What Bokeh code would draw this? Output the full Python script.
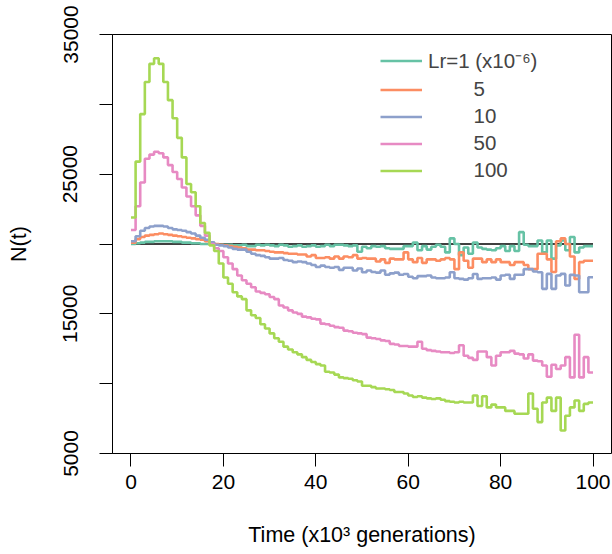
from bokeh.plotting import figure
from bokeh.models import Legend, LegendItem, FixedTicker, Range1d
from bokeh.embed import file_html
from bokeh.resources import INLINE

# ---- data ----
time_k = list(range(0, 101))  # x10^3 generations

lr1 = [20000, 20050, 20100, 20150, 20150, 20200, 20200, 20200, 20200, 20150,
       20150, 20100, 20100, 20050, 20050, 20000, 20000, 19950, 19950, 19950,
       19950, 19950, 19900, 19900, 19950, 19850, 19850, 19950, 19900, 19950,
       19900, 19850, 19950, 19900, 19800, 19850, 19900, 19800, 19850, 19900,
       19800, 19850, 19950, 19850, 19950, 19950, 19900, 19850, 19900, 19450,
       19800, 19700, 19850, 19800, 19850, 19700, 19650, 19650, 19650, 19850,
       19850, 20100, 19550, 19850, 19600, 19800, 19950, 19800, 19400, 20400,
       20000, 19200, 19750, 19300, 20100, 19750, 19650, 19600, 19550, 19700,
       19850, 19500, 19850, 19500, 20850, 19950, 19850, 19850, 20250, 19400,
       20250, 18950, 19900, 20250, 19550, 20500, 19400, 19750, 19850, 19850, 19850]

lr5 = [20100, 20350, 20500, 20600, 20650, 20700, 20750, 20700, 20650, 20600,
       20550, 20500, 20450, 20400, 20350, 20300, 20200, 20100, 20000, 19950,
       19900, 19850, 19800, 19750, 19700, 19600, 19600, 19550, 19550, 19500,
       19450, 19400, 19400, 19350, 19300, 19300, 19250, 19250, 19100, 19200,
       19000, 19000, 19050, 18950, 19100, 18950, 19100, 19050, 19200, 18950,
       19000, 18950, 18950, 18750, 18900, 18650, 18950, 18900, 18900, 19400,
       18900, 18700, 19000, 18650, 18900, 18900, 18800, 18900, 19000, 18900,
       18200, 19400, 18800, 18300, 18950, 18950, 18700, 18900, 18700, 18900,
       18700, 18700, 18500, 18700, 18700, 18500, 18200, 18200, 19300, 19300,
       18900, 18000, 20200, 20400, 20000, 19100, 17500, 18700, 18800, 18800, 18800]

lr10 = [20200, 20550, 20950, 21150, 21250, 21300, 21300, 21250, 21150, 21050,
        21000, 20950, 20850, 20750, 20600, 20450, 20300, 20130, 19950, 19900,
        19850, 19750, 19650, 19600, 19600, 19450, 19300, 19200, 19150, 19050,
        18950, 18950, 19000, 18850, 18800, 18700, 18750, 18700, 18600, 18500,
        18350, 18450, 18350, 18300, 18350, 18150, 18300, 18300, 18100, 18250,
        17980, 18100, 18000, 17950, 18100, 17800, 17900, 17950, 17800, 17850,
        17650, 17550, 17700, 17700, 17750, 17600, 17550, 17550, 17600, 17980,
        17550, 17500, 17450, 17550, 17850, 17500, 17550, 17550, 17600, 17450,
        17750, 17800, 17500, 17800, 17800, 18200, 18200, 18030, 17980, 16790,
        17860, 16790, 17740, 17860, 17025, 17790, 17740, 16550, 16550, 17620, 17620]

lr50 = [21000, 22700, 24400, 26100, 26400, 26600, 26500, 26200, 25650, 25150,
        24650, 24050, 23400, 22700, 22050, 21300, 20600, 20000, 19700, 19500,
        19050, 18600, 18200, 17750, 17400, 17150, 16900, 16600, 16500, 16400,
        16200, 16050, 15600, 15450, 15250, 15100, 15000, 14800, 14750, 14650,
        14600, 14300, 14250, 14150, 14050, 14000, 13800, 13750, 13650, 13600,
        13550, 13300, 13250, 13200, 13100, 13050, 12850, 12800, 12700, 12700,
        12650, 12650, 13000, 12500, 12400, 12350, 12300, 12250, 12250, 12200,
        12250, 12750, 12000, 11850, 11700, 12300, 12300, 11900, 11300, 12000,
        12250, 12250, 12350, 12150, 12100, 11800, 12100, 11650, 11600, 11300,
        10500, 11350, 11050, 11300, 11900, 10450, 13500, 10450, 11900, 10800, 10800]

lr100 = [21900, 25900, 29300, 31600, 32900, 33300, 32900, 31600, 30300, 29000,
         27600, 26200, 24300, 23700, 22700, 21500, 20800, 19900, 19500, 18600,
         17600, 17150, 16550, 16250, 16050, 15250, 14900, 14700, 14250, 13950,
         13600, 13250, 13000, 12650, 12450, 12250, 12100, 11900, 11700, 11550,
         11400, 11300, 10850, 10800, 10650, 10450, 10400, 10350, 10250, 10150,
         9850, 9850, 9750, 9650, 9650, 9600, 9550, 9400, 9400, 9300,
         9150, 9050, 9100, 9000, 8950, 8900, 8950, 8850, 8750, 8700,
         8650, 8700, 8650, 8650, 9150, 8400, 9100, 8300, 8500, 8300,
         8300, 8050, 8050, 7850, 7850, 7850, 9300, 8200, 7250, 8650,
         9000, 8050, 9000, 6650, 7700, 8300, 8800, 8050, 8550, 8650, 8650]

series = [lr1, lr5, lr10, lr50, lr100]
labels = ["Lr=1 (x10\u207b\u2076)",
          "\u00a0" * 8 + "5",
          "\u00a0" * 8 + "10",
          "\u00a0" * 8 + "50",
          "\u00a0" * 8 + "100"]
colors = ["#66C2A5", "#FC8D62", "#8DA0CB", "#E78AC3", "#A6D854"]

reference_N = 20000
x_ticks = [0, 20, 40, 60, 80, 100]
y_ticks = [5000, 10000, 15000, 20000, 25000, 30000, 35000]
y_hidden = [10000, 20000, 30000]

FONT = "Liberation Sans"
FS = "21px"

p = figure(width=612, height=554, output_backend="svg", toolbar_location=None,
           x_range=Range1d(-4, 104), y_range=Range1d(5000, 35000),
           min_border_left=112, min_border_right=1, min_border_top=34,
           min_border_bottom=101)

p.background_fill_color = "white"
p.border_fill_color = "white"
p.outline_line_color = "black"
p.outline_line_width = 1
p.outline_line_alpha = 1
p.xgrid.visible = False
p.ygrid.visible = False

# reference line
p.line([time_k[0], time_k[-1]], [reference_N, reference_N], color="black", line_width=1.5)

items = []
for ys, lab, col in zip(series, labels, colors):
    r = p.step(time_k, ys, mode="after", line_width=2.6, color=col)
    items.append(LegendItem(label=lab, renderers=[r]))

legend = Legend(items=items, location=(268, 271), padding=0, margin=0, spacing=3,
                glyph_width=42, glyph_height=21, label_height=21, label_standoff=6,
                label_text_font=FONT, label_text_font_size="20.5px",
                background_fill_alpha=0, border_line_alpha=0)
p.add_layout(legend, "center")

for ax in (p.xaxis[0], p.yaxis[0]):
    ax.axis_line_color = "black"
    ax.axis_line_width = 1
    ax.major_tick_line_color = "black"
    ax.major_tick_line_width = 1
    ax.major_tick_in = 0
    ax.major_tick_out = 13
    ax.minor_tick_line_color = None
    ax.major_label_text_font = FONT
    ax.major_label_text_font_size = FS
    ax.major_label_text_color = "black"
    ax.axis_label_text_font = FONT
    ax.axis_label_text_font_size = "21.5px"
    ax.axis_label_text_font_style = "normal"
    ax.axis_label_text_color = "black"

p.xaxis.ticker = FixedTicker(ticks=x_ticks)
p.xaxis.bounds = (x_ticks[0], x_ticks[-1])
p.xaxis.major_label_standoff = 8
p.xaxis.axis_label = "Time (x10\u00b3 generations)"
p.xaxis.axis_label_standoff = 31

p.yaxis.ticker = FixedTicker(ticks=y_ticks)
p.yaxis.bounds = (y_ticks[0], y_ticks[-1])
p.yaxis.major_label_overrides = {v: "" for v in y_hidden}
p.yaxis.major_label_orientation = "vertical"
p.yaxis.major_label_standoff = 22
p.yaxis.axis_label = "N(t)"
p.yaxis.axis_label_standoff = 30

open("out.html", "w").write(file_html(p, INLINE))
